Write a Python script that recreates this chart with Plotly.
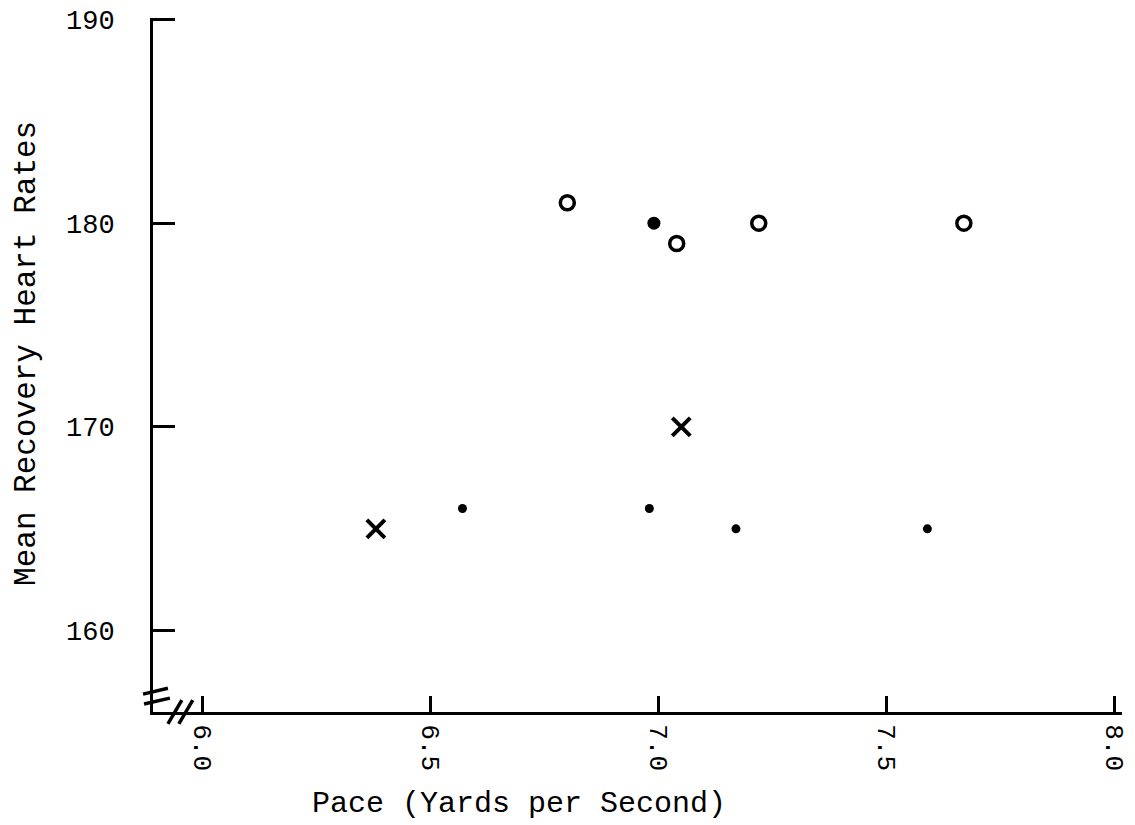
import plotly.graph_objects as go

# Data
open_x = [6.80, 7.04, 7.22, 7.67]
open_y = [181, 179, 180, 180]

big_dot_x = [6.99]
big_dot_y = [180]

dot_x = [6.57, 6.98, 7.17, 7.59]
dot_y = [166, 166, 165, 165]

cross_x = [6.38, 7.05]
cross_y = [165, 170]

x_ticks = [6.0, 6.5, 7.0, 7.5, 8.0]
x_tick_labels = ["6.0", "6.5", "7.0", "7.5", "8.0"]
y_ticks = [160, 170, 180, 190]
y_tick_labels = ["160", "170", "180", "190"]

FONT = "Liberation Mono"

W, H = 1135, 825
ML, MR, MT, MB = 153, 7, 12, 113
PW, PH = W - ML - MR, H - MT - MB


def px(x):
    return (x - ML) / PW


def py(y):
    return (H - MB - y) / PH


fig = go.Figure()
fig.add_trace(go.Scatter(x=open_x, y=open_y, mode="markers",
                         marker=dict(symbol="circle-open", size=14, color="black",
                                     line=dict(width=3.5, color="black"))))
fig.add_trace(go.Scatter(x=big_dot_x, y=big_dot_y, mode="markers",
                         marker=dict(symbol="circle", size=13, color="black")))
fig.add_trace(go.Scatter(x=dot_x, y=dot_y, mode="markers",
                         marker=dict(symbol="circle", size=9, color="black")))
fig.add_trace(go.Scatter(x=cross_x, y=cross_y, mode="markers",
                         marker=dict(symbol="x-thin-open", size=18, color="black",
                                     line=dict(width=4, color="black"))))

# axis-break marks (decoration, in paper coordinates)
shapes = []
for (x0, y0, x1, y1) in [(143, 694, 168, 688), (144, 704, 170, 698),
                         (168, 724, 182, 700), (179, 724, 193, 700)]:
    shapes.append(dict(type="line", xref="paper", yref="paper",
                       x0=px(x0), y0=py(y0), x1=px(x1), y1=py(y1),
                       line=dict(color="black", width=3.5)))

fig.update_layout(
    width=W, height=H,
    margin=dict(l=ML, r=MR, t=MT, b=MB),
    paper_bgcolor="white", plot_bgcolor="white",
    showlegend=False,
    font=dict(family=FONT, color="black", size=26),
    shapes=shapes,
    xaxis=dict(range=[5.891, 8.017], tickvals=x_ticks, ticktext=x_tick_labels,
               tickangle=90, ticks="inside", ticklen=16, tickwidth=3,
               tickcolor="black", showline=True, linewidth=3, linecolor="black",
               showgrid=False, zeroline=False, tickfont=dict(size=26, family=FONT),
               ticklabelstandoff=4),
    yaxis=dict(range=[156.01, 190.07], tickvals=y_ticks, ticktext=y_tick_labels,
               ticks="inside", ticklen=22, tickwidth=3, tickcolor="black",
               showline=True, linewidth=3, linecolor="black",
               showgrid=False, zeroline=False, tickfont=dict(size=27, family=FONT),
               ticklabelstandoff=30),
    annotations=[
        dict(text="Pace (Yards per Second)", xref="paper", yref="paper",
             x=px(521), y=py(805),
             xanchor="center", yanchor="middle", showarrow=False,
             font=dict(size=30, family=FONT)),
        dict(text="Mean Recovery Heart Rates", xref="paper", yref="paper",
             x=px(25), y=py(350),
             xanchor="center", yanchor="middle", showarrow=False, textangle=-90,
             font=dict(size=31, family=FONT)),
    ],
)

fig.write_html("out.html")
